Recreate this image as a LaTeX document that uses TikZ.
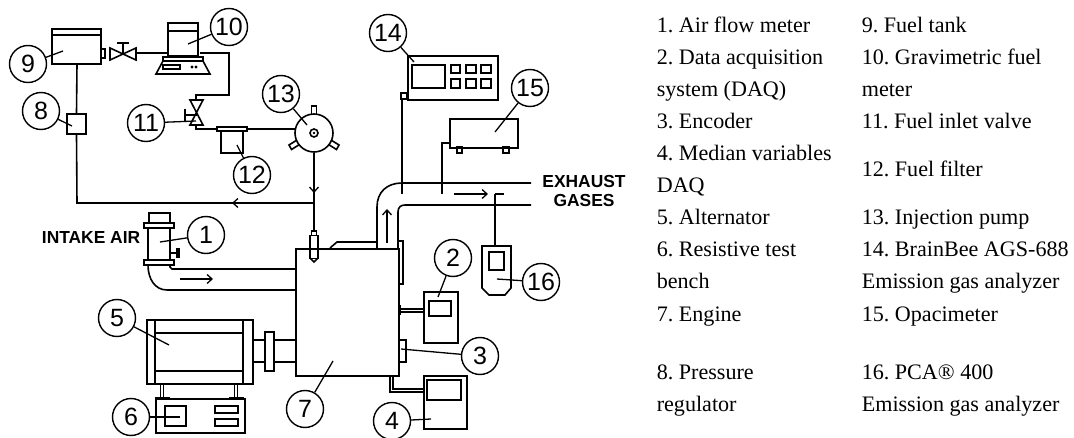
\documentclass[tikz,border=0pt]{standalone}
\usepackage{fontspec}
\setmainfont{Liberation Serif}
\newfontfamily\arialfont{Liberation Sans}
\usetikzlibrary{arrows.meta}
\frenchspacing
\tikzset{
  every path/.style={line width=1.6pt, line join=miter},
  thin line/.style={line width=1.2pt},
  calloutc/.style={draw, circle, line width=1.4pt, minimum size=37pt, inner sep=0pt, font=\arialfont\fontsize{25}{25}\selectfont},
  leaderl/.style={line width=1.3pt},
  flow/.style={line width=1.3pt, -{Straight Barb[length=5pt,width=9pt,line width=1.3pt]}},
  legend/.style={anchor=base west, inner sep=0pt, font=\fontsize{22.1}{22.1}\selectfont},
  heading/.style={inner sep=0pt, font=\arialfont\bfseries\fontsize{17.4}{17.4}\selectfont},
}
\newcommand{\callout}[6]{%
  \node[calloutc] (c#1) at (#2,#3) {#6};
  \coordinate (l#1) at (#4,#5);
  \draw[leaderl] (c#1) -- (l#1);
}
\begin{document}
\begin{tikzpicture}[x=1pt,y=-1pt]
\useasboundingbox (0,0) rectangle (1074,438);

% fuel tank 9
\draw (52,29) rectangle (101,64);
\draw (52,35) -- (101,35);
\draw (101,49) rectangle (105,58);
% valve between tank and meter
\draw (110,48) -- (136,60) -- (136,48) -- (110,60) -- cycle;
\draw (123,54) -- (123,43);
\draw (117,43) -- (129,43);
\coordinate (v1out) at (136,53);
% gravimetric meter 10
\draw (168,23) rectangle (198,56);
\draw (168,31) -- (198,31);
\draw (163,57) rectangle (203,61);
\draw (163,61) -- (156,74) -- (210,74) -- (203,61);
\draw (163,65) rectangle (180,69);
\fill (192,67) circle (1.6);
\fill (196,67) circle (1.6);
\coordinate (m10in) at (167,53);
\draw (v1out) -- (m10in);
% meter to inlet valve
\coordinate (m10out) at (200,53);
\coordinate (v11in) at (196,100);
\draw (m10out) -- (229,53) -- (229,95) -- (196,95) -- (v11in);
% inlet valve 11
\draw (190,100) -- (203,125) -- (190,125) -- (203,100) -- cycle;
\draw (196.5,115) -- (185,115);
\draw (185,109) -- (185,121);
% filter 12
\draw (217,127) rectangle (247,131);
\draw (221,131) rectangle (243,153);
\draw (196,125) -- (196,129) -- (217,129);
% injection pump 13
\draw (247,129) -- (295,129);
\node[draw, circle, minimum size=38pt, inner sep=0pt, fill=white] (pump) at (314,133) {};
\draw (314,133) circle (4);
\fill (314,133) circle (1.3);
\draw (311.5,114) -- (311.5,106) -- (316.5,106) -- (316.5,114);
\draw (297,140) -- (289,145) -- (291.5,149.5) -- (299.5,144.5);
\draw (331,140) -- (339,145) -- (336.5,149.5) -- (328.5,144.5);
% pump to injector, return line
\coordinate (tee) at (314,203);
\draw[flow] (pump.south) -- (314,193);
\draw (314,190) -- (tee);
\node[draw, minimum width=8pt, minimum height=23pt, inner sep=0pt] (inj) at (314,247) {};
\draw (311.5,235) -- (311.5,231) -- (316.5,231) -- (316.5,235);
\draw (310,258) -- (314,262) -- (318,258);
\draw (tee) -- (314,231);
\node[draw, minimum width=19pt, minimum height=20pt, inner sep=0pt] (reg8) at (76.5,124) {};
\draw (52+25,64) -- (reg8.north);
\draw (reg8.south) -- (77,203) -- (tee);
\draw[flow] (245,203) -- (232,203);

% engine 7
\node[draw, minimum width=103pt, minimum height=127pt, inner sep=0pt, anchor=north west] (eng) at (295,248) {};
\draw (330,248) -- (337,242) -- (377,242);
\draw (398,241) -- (403,241) -- (403,284) -- (398,284);

% exhaust pipe
\coordinate (exU) at (531,183);
\coordinate (exL) at (531,205);
\draw (377,248) -- (377,207) .. controls (377,192) and (387,183) .. (402,183) -- (exU);
\draw (398,248) -- (398,212) .. controls (398,207) and (401,205) .. (405,205) -- (exL);
\draw[flow] (387,243) -- (387,209);
\draw[flow] (454,194) -- (488,194);
\node[heading] (exh) at (584,182) {EXHAUST};
\node[heading] (gas) at (584,201) {GASES};

% analyser 14
\draw (401,93) rectangle (407,99);
\node[draw, minimum width=90pt, minimum height=44pt, inner sep=0pt, anchor=north west] (box14) at (407,55) {};
\draw (412,65) rectangle (445,88);
\draw (451,65) rectangle (460,73);
\draw (466,65) rectangle (476,73);
\draw (481,65) rectangle (491,73);
\draw (451,79) rectangle (460,88);
\draw (466,79) rectangle (476,88);
\draw (481,79) rectangle (491,88);
\draw (402,99) -- (402,194);
% opacimeter 15
\node[draw, minimum width=68pt, minimum height=29pt, inner sep=0pt, anchor=north west] (box15) at (449,118) {};
\draw (457,147) rectangle (462,153);
\draw (503,147) rectangle (509,153);
\draw (449,143) -- (442,143) -- (442,194);
% PCA 16
\draw (504,194) -- (495,194);
\draw (495,194) -- (495,246);
\draw (482,246) -- (511,246) -- (511,288) -- (505,295) -- (489,295) -- (482,288) -- cycle;
\draw (489,252) rectangle (504,270);

% DAQ 2
\node[draw, minimum width=34pt, minimum height=51pt, inner sep=0pt, anchor=north west] (box2) at (423,291) {};
\draw (429,301) rectangle (451,316);
\draw[thin line] (399,309) -- (423,309);
\draw[thin line] (399,312) -- (423,312);
\fill (398,305) rectangle (401,315);
% encoder 3
\draw (398,340) -- (406,340) -- (406,362) -- (398,362);
% DAQ 4
\node[draw, minimum width=43pt, minimum height=53pt, inner sep=0pt, anchor=north west] (box4) at (423,375) {};
\draw (427,380) rectangle (461,400);
\draw[thin line] (390,375) -- (390,392) -- (423,392);
\draw[thin line] (393,375) -- (393,389) -- (423,389);

% intake and air flow meter 1
\draw (149,223) -- (149,213) -- (170,213) -- (170,223);
\draw (144,223) rectangle (174,228);
\draw (148,228) -- (148,260);
\draw (170,228) -- (170,260);
\draw (144,260) rectangle (174,265);
\draw (170,253) -- (177,253);
\fill (175.5,248) rectangle (180,258);
\draw (148,265) .. controls (148,279) and (155,290) .. (167,290) -- (295,290);
\draw (170,265) -- (170,267) -- (172,269) -- (295,269);
\draw[flow] (180,279) -- (213,279);
\node[heading, anchor=east] (intake) at (141,238) {INTAKE AIR};

% alternator 5
\node[draw, minimum width=106pt, minimum height=64pt, inner sep=0pt, anchor=north west] (alt) at (146,319) {};
\draw (155,319) -- (155,383);
\draw (243,319) -- (243,383);
\draw (155,333) -- (243,333);
\draw (155,371) -- (243,371);
% shaft
\draw (252,340) -- (265,340);
\draw (252,362) -- (265,362);
\draw (265,332) rectangle (274,371);
\draw (274,340) -- (295,340);
\draw (274,362) -- (295,362);
% legs
\draw (160.5,383) -- (160.5,398);
\draw (163.5,383) -- (163.5,398);
\draw (234.5,383) -- (234.5,398);
\draw (237.5,383) -- (237.5,398);
% bench 6
\node[draw, minimum width=89pt, minimum height=34pt, inner sep=0pt, anchor=north west] (bench) at (155,398) {};
\draw[line width=2.6pt] (155,398) -- (170,398);
\draw[line width=2.6pt] (229,398) -- (244,398);
\draw (165,406) rectangle (186,426);
\draw (215,406) rectangle (238,413);
\draw (215,419) rectangle (238,426);

% callouts
\callout{1}{206}{235}{160}{242}{1}
\callout{2}{453}{258}{438}{297}{2}
\callout{3}{480}{356}{401}{349}{3}
\callout{4}{392}{421}{431}{419}{4}
\callout{5}{117}{318}{169}{345}{5}
\callout{6}{131}{417}{180}{417}{6}
\callout{7}{305}{409}{333}{361}{7}
\callout{8}{41}{111}{72}{126}{8}
\callout{9}{28}{64}{63}{51}{9}
\callout{10}{229}{27}{188}{44}{10}
\callout{11}{146}{123}{196}{121}{11}
\callout{12}{252}{175}{237}{145}{12}
\callout{13}{281}{94}{307}{125}{13}
\callout{14}{388}{33}{414}{62}{14}
\callout{15}{530}{88}{495}{132}{15}
\callout{16}{541}{282}{497}{279}{16}

% legend
\node[legend] (a1) at (656,33) {1. Air flow meter};
\node[legend] (a2) at (656,65) {2. Data acquisition};
\node[legend] (a3) at (656,97) {system (DAQ)};
\node[legend] (a4) at (656,129) {3. Encoder};
\node[legend] (a5) at (656,161) {4. Median variables};
\node[legend] (a6) at (656,193) {DAQ};
\node[legend] (a7) at (656,225) {5. Alternator};
\node[legend] (a8) at (656,257) {6. Resistive test};
\node[legend] (a9) at (656,289) {bench};
\node[legend] (a10) at (656,322) {7. Engine};
\node[legend] (a11) at (656,379) {8. Pressure};
\node[legend] (a12) at (656,411) {regulator};
\node[legend] (b1) at (861,33) {9. Fuel tank};
\node[legend] (b2) at (861,65) {10. Gravimetric fuel};
\node[legend] (b3) at (861,97) {meter};
\node[legend] (b4) at (861,129) {11. Fuel inlet valve};
\node[legend] (b5) at (861,177) {12. Fuel filter};
\node[legend] (b6) at (861,225) {13. Injection pump};
\node[legend] (b7) at (861,257) {14. BrainBee AGS-688};
\node[legend] (b8) at (861,289) {Emission gas analyzer};
\node[legend] (b9) at (861,322) {15. Opacimeter};
\node[legend] (b10) at (861,379) {16. PCA\textregistered{} 400};
\node[legend] (b11) at (861,411) {Emission gas analyzer};
\end{tikzpicture}
\end{document}
